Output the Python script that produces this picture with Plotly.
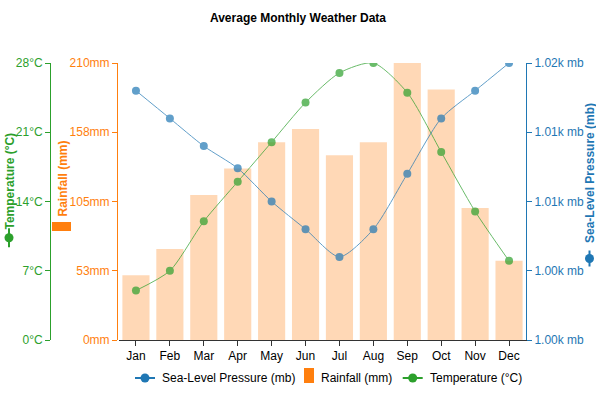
import plotly.graph_objects as go

months = ["Jan", "Feb", "Mar", "Apr", "May", "Jun", "Jul", "Aug", "Sep", "Oct", "Nov", "Dec"]
rainfall = [49, 69, 110, 130, 150, 160, 140, 150, 210, 190, 100, 60]
temperature = [5, 7, 12, 16, 20, 24, 27, 28, 25, 19, 13, 8]
pressure = [1018, 1016, 1014, 1012.4, 1010, 1008, 1006, 1008, 1012, 1016, 1018, 1020]

rain_ticks = [0, 52.5, 105, 157.5, 210]
rain_ticktext = ["0mm", "53mm", "105mm", "158mm", "210mm"]
temp_ticks = [0, 7, 14, 21, 28]
temp_ticktext = ["0°C", "7°C", "14°C", "21°C", "28°C"]
pres_ticks = [1000, 1005, 1010, 1015, 1020]
pres_ticktext = ["1.00k mb", "1.00k mb", "1.01k mb", "1.01k mb", "1.02k mb"]

legend_names = ["Sea-Level Pressure (mb)", "Rainfall (mm)", "Temperature (°C)"]

BLUE = "#1f77b4"
ORANGE = "#ff7f0e"
GREEN = "#2ca02c"
FONT = "Liberation Sans, Arial, sans-serif"

W, H = 596, 398
L, R, T, B = 50, 70, 63, 58
PW, PH = W - L - R, H - T - B


def px(x):
    return (x - L) / PW


def py(y):
    return (H - B - y) / PH


fig = go.Figure()

fig.add_trace(go.Bar(
    x=months, y=rainfall, name=legend_names[1], yaxis="y",
    marker=dict(color=ORANGE, opacity=0.3, line=dict(width=0)),
    hoverinfo="x+y",
))
fig.add_trace(go.Scatter(
    x=months, y=pressure, name=legend_names[0], yaxis="y3",
    mode="lines+markers", line=dict(color=BLUE, width=1, shape="spline", smoothing=0.7),
    marker=dict(color=BLUE, size=8), opacity=0.7,
))
fig.add_trace(go.Scatter(
    x=months, y=temperature, name=legend_names[2], yaxis="y2",
    mode="lines+markers", line=dict(color=GREEN, width=1, shape="spline", smoothing=0.7),
    marker=dict(color=GREEN, size=8), opacity=0.7,
))

fig.update_layout(
    width=W, height=H,
    margin=dict(l=L, r=R, t=T, b=B, autoexpand=False),
    paper_bgcolor="white", plot_bgcolor="white",
    font=dict(family=FONT, size=12, color="black"),
    showlegend=False,
    title=dict(text="<b>Average Monthly Weather Data</b>", x=0.5, xref="container", xanchor="center",
               y=1 - 18 / H, yref="container", yanchor="middle", font=dict(size=12, color="black")),
    bargap=0.2,
    xaxis=dict(domain=[px(119), 1], range=[-0.5, 11.5], type="category", showgrid=False,
               showline=True, linecolor="#333", linewidth=1, ticks="outside", ticklen=5,
               tickcolor="#333", tickfont=dict(size=12, color="black"), automargin=False),
    yaxis=dict(range=[0, 210], tickvals=rain_ticks, ticktext=rain_ticktext, showgrid=False, zeroline=False,
               showline=True, linecolor=ORANGE, ticks="outside", ticklen=5, tickcolor=ORANGE,
               tickfont=dict(color=ORANGE, size=12), side="left", anchor="free", position=px(117),
               automargin=False),
    yaxis2=dict(range=[0, 28], tickvals=temp_ticks, ticktext=temp_ticktext, showgrid=False, zeroline=False,
                showline=True, linecolor=GREEN, ticks="outside", ticklen=5, tickcolor=GREEN,
                tickfont=dict(color=GREEN, size=12), side="left", anchor="free", position=0,
                overlaying="y", automargin=False),
    yaxis3=dict(range=[1000, 1020], tickvals=pres_ticks, ticktext=pres_ticktext, showgrid=False,
                zeroline=False, showline=True, linecolor=BLUE, ticks="outside", ticklen=5, tickcolor=BLUE,
                tickfont=dict(color=BLUE, size=12), side="right", anchor="x", overlaying="y",
                automargin=False),
    hovermode="closest",
)

# axis titles
fig.add_annotation(text="<b>Temperature (°C)</b>", x=px(9), y=py(181.5), xref="paper", yref="paper",
                   xanchor="center", yanchor="middle",
                   textangle=-90, showarrow=False, font=dict(color=GREEN, size=12))
fig.add_annotation(text="<b>Rainfall (mm)</b>", x=px(62), y=py(178.5), xref="paper", yref="paper",
                   xanchor="center", yanchor="middle",
                   textangle=-90, showarrow=False, font=dict(color=ORANGE, size=12))
fig.add_annotation(text="<b>Sea-Level Pressure (mb)</b>", x=px(589.5), y=py(173.5), xref="paper",
                   yref="paper", xanchor="center", yanchor="middle",
                   textangle=-90, showarrow=False, font=dict(color=BLUE, size=12))


def line_dot(cx, cy, color, vertical, half=10, r=4.5):
    if vertical:
        fig.add_shape(type="line", xref="paper", yref="paper", x0=px(cx), x1=px(cx),
                      y0=py(cy - half), y1=py(cy + half), line=dict(color=color, width=2))
    else:
        fig.add_shape(type="line", xref="paper", yref="paper", x0=px(cx - half), x1=px(cx + half),
                      y0=py(cy), y1=py(cy), line=dict(color=color, width=2))
    fig.add_shape(type="circle", xref="paper", yref="paper", xsizemode="pixel", ysizemode="pixel",
                  xanchor=px(cx), yanchor=py(cy), x0=-r, x1=r, y0=-r, y1=r,
                  fillcolor=color, line=dict(width=0))


# axis title symbols
line_dot(9, 237.7, GREEN, True, half=9.5)
fig.add_shape(type="rect", xref="paper", yref="paper", x0=px(52), x1=px(71), y0=py(231), y1=py(222),
              fillcolor=ORANGE, line=dict(width=0))
line_dot(589.5, 258.5, BLUE, True, half=8)

# custom legend (bottom)
LY = 378
line_dot(145, LY, BLUE, False, half=10)
fig.add_annotation(text=legend_names[0], x=px(160), y=py(LY), xref="paper", yref="paper",
                   xanchor="left", yanchor="middle", showarrow=False, font=dict(size=12, color="black"))
fig.add_shape(type="rect", xref="paper", yref="paper", x0=px(304), x1=px(314), y0=py(383), y1=py(368),
              fillcolor=ORANGE, line=dict(width=0))
fig.add_annotation(text=legend_names[1], x=px(319), y=py(LY), xref="paper", yref="paper",
                   xanchor="left", yanchor="middle", showarrow=False, font=dict(size=12, color="black"))
line_dot(412.7, LY, GREEN, False, half=10)
fig.add_annotation(text=legend_names[2], x=px(428), y=py(LY), xref="paper", yref="paper",
                   xanchor="left", yanchor="middle", showarrow=False, font=dict(size=12, color="black"))

fig.write_html("out.html", config={"displayModeBar": False},
               post_script="document.body.style.margin='0px';")
